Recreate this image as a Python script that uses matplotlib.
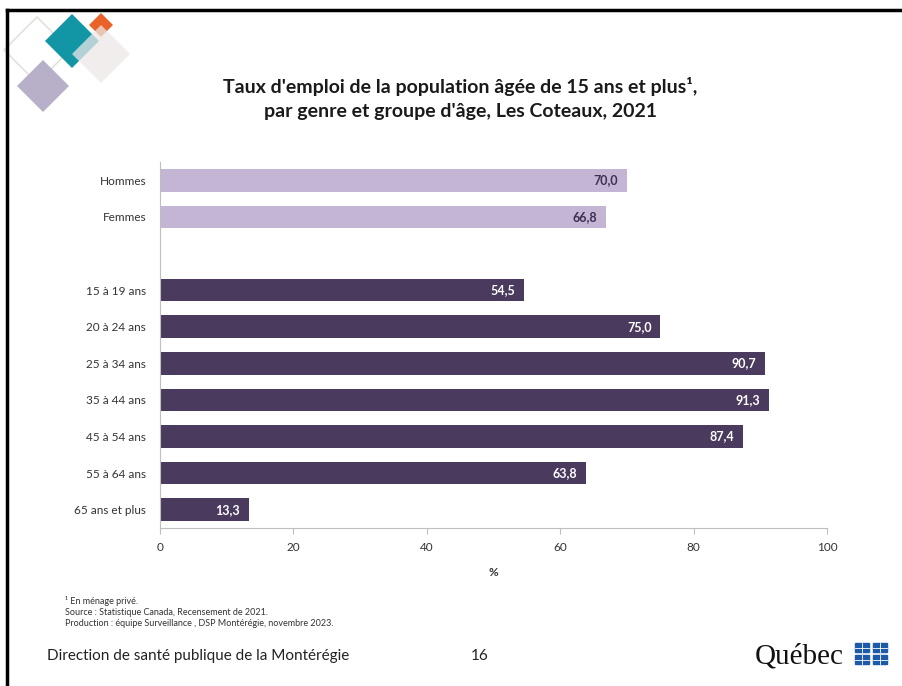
import matplotlib
matplotlib.use("Agg")
import matplotlib.pyplot as plt
from matplotlib.patches import Polygon, Rectangle

plt.rcParams['font.family'] = ['Lato', 'DejaVu Sans']

# data
categories = ['Hommes', 'Femmes', '', '15 à 19 ans', '20 à 24 ans', '25 à 34 ans',
              '35 à 44 ans', '45 à 54 ans', '55 à 64 ans', '65 ans et plus']
values = [70.0, 66.8, None, 54.5, 75.0, 90.7, 91.3, 87.4, 63.8, 13.3]
is_gender = [True, True, False, False, False, False, False, False, False, False]
xticks = [0, 20, 40, 60, 80, 100]

light = '#c3b5d3'
dark = '#4a3a5e'

W, H = 902, 686
fig = plt.figure(figsize=(W / 100, H / 100), dpi=100)


def px(x, y):
    return (x / W, 1 - y / H)


# slide border (top and left)
fig.add_artist(plt.Line2D([7 / W, 1], [1 - 10 / H] * 2, color='black', lw=2.5))
fig.add_artist(plt.Line2D([7 / W] * 2, [1 - 10 / H, 0], color='black', lw=2.5))


def diamond(cx, cy, h, **kw):
    pts = [px(cx, cy - h), px(cx + h, cy), px(cx, cy + h), px(cx - h, cy)]
    fig.add_artist(Polygon(pts, closed=True, transform=fig.transFigure, **kw))


# logo decoration
diamond(37, 50, 33, facecolor='none', edgecolor='#dfe3dc', lw=1.2)
diamond(43, 86, 26, facecolor='#b8afc9', edgecolor='none')
diamond(101, 25, 12, facecolor='#e8622a', edgecolor='none')
diamond(72, 41, 27, facecolor='#1296a6', edgecolor='none')
diamond(101, 54, 29, facecolor='#ebe7e6', edgecolor='none', alpha=0.75)

# title
fig.text(460 / W, 1 - 86 / H, "Taux d'emploi de la population âgée de 15 ans et plus¹,",
         ha='center', va='center', fontsize=14, fontweight='bold', color='#1a1a1a')
fig.text(460 / W, 1 - 111 / H, "par genre et groupe d'âge, Les Coteaux, 2021",
         ha='center', va='center', fontsize=14, fontweight='bold', color='#1a1a1a')

ax = fig.add_axes([160 / W, 1 - 528 / H, (827 - 160) / W, (528 - 162) / H])
ys = list(range(len(categories)))
for y, v, g in zip(ys, values, is_gender):
    if v is None:
        continue
    ax.barh(y, v, height=0.62, color=light if g else dark)
    ax.text(v - 1.3, y, f"{v:.1f}".replace('.', ','), ha='right', va='center',
            fontsize=9, fontweight='bold', color='#3d3050' if g else 'white')

ax.set_ylim(len(categories) - 0.5, -0.5)
ax.set_xlim(0, 100)
ax.set_yticks(ys)
ax.set_yticklabels(categories, fontsize=8.5, color='#333333')
ax.set_xticks(xticks)
ax.set_xticklabels([str(t) for t in xticks], fontsize=8.5, color='#333333')
ax.tick_params(axis='y', length=0, pad=10)
ax.tick_params(axis='x', length=4, color='#bfbfbf', direction='out', pad=6)
for s in ['top', 'right']:
    ax.spines[s].set_visible(False)
ax.spines['left'].set_color('#bfbfbf')
ax.spines['bottom'].set_color('#bfbfbf')
ax.set_xlabel('%', fontsize=8.5, fontweight='bold', color='#333333', labelpad=10)

# footnotes
notes = ['¹ En ménage privé.',
         'Source : Statistique Canada, Recensement de 2021.',
         'Production : équipe Surveillance , DSP Montérégie, novembre 2023.']
for i, n in enumerate(notes):
    fig.text(65 / W, 1 - (601 + i * 11.5) / H, n, ha='left', va='center',
             fontsize=6.5, color='#333333')

fig.text(47 / W, 1 - 656 / H, 'Direction de santé publique de la Montérégie',
         ha='left', va='center', fontsize=11, color='#222222')
fig.text(480 / W, 1 - 656 / H, '16', ha='center', va='center', fontsize=11,
         color='#222222')
fig.text(755 / W, 1 - 656 / H, 'Québec', ha='left', va='center', fontsize=21,
         family=['Liberation Serif', 'DejaVu Serif'], color='#111111')

# flag blocks
for fx in (855, 873):
    for fy in (643, 655):
        fig.add_artist(Rectangle(px(fx, fy + 9), 14 / W, 9 / H,
                                 transform=fig.transFigure, color='#1d5aa8'))
        fig.add_artist(plt.Line2D([fx / W, (fx + 14) / W], [1 - (fy + 4.5) / H] * 2,
                                  color='white', lw=0.6))
        fig.add_artist(plt.Line2D([(fx + 7) / W] * 2, [1 - fy / H, 1 - (fy + 9) / H],
                                  color='white', lw=0.6))

fig.savefig('out.png', dpi=100)
